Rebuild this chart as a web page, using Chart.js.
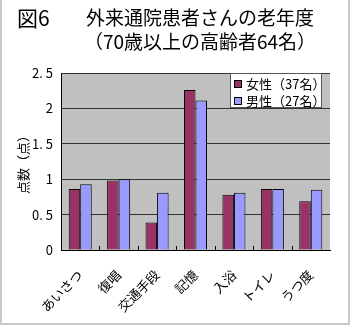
<!DOCTYPE html>
<html lang="ja">
<head>
<meta charset="utf-8">
<script src="https://cdn.jsdelivr.net/npm/chart.js@4/dist/chart.umd.min.js"></script>
<style>
  html, body { margin: 0; padding: 0; background: #fff; }
  #wrap { position: relative; width: 350px; height: 325px; overflow: hidden;
          font-family: "Noto Sans CJK JP", sans-serif; color: #000; }
  #frame { position: absolute; left: 0; top: 0; width: 350px; height: 325px; box-sizing: border-box;
           border: 2px solid #c8c8c8; border-top: none; pointer-events: none; }
  canvas { position: absolute; left: 0; top: 0; }
  #fig { position: absolute; left: 17px; top: 3px; font-size: 21px; line-height: 28px; }
  #title { position: absolute; left: 25px; top: 5px; width: 350px; text-align: center;
           font-size: 19px; line-height: 24px; }
  #legend { position: absolute; left: 230px; top: 73px; width: 92px; height: 35px; box-sizing: border-box;
            background: #fff; border: 1px solid #555; font-size: 13px; line-height: 17px; padding-top: 1px; }
  #legend div { white-space: nowrap; padding-left: 3px; }
  #legend span.sw { display: inline-block; width: 6px; height: 6px; border: 1px solid #000;
                    margin-right: 4px; vertical-align: 1px; }
</style>
</head>
<body>
<div id="wrap">
  <canvas id="c" width="350" height="325"></canvas>
  <div id="fig">図6</div>
  <div id="title">外来通院患者さんの老年度<br>（70歳以上の高齢者64名）</div>
  <div id="legend"></div>
  <div id="frame"></div>
</div>
<script>
// 項目
const categories = ['あいさつ', '復唱', '交通手段', '記憶', '入浴', 'トイレ', 'うつ度'];
// 女性（37名）の平均点
const femaleScores = [0.86, 0.98, 0.39, 2.26, 0.78, 0.86, 0.69];
// 男性（27名）の平均点
const maleScores = [0.93, 1.00, 0.81, 2.11, 0.81, 0.86, 0.85];
// 系列名
const seriesNames = ['女性（37名）', '男性（27名）'];
// 縦軸目盛の表示
const yTickLabels = { 0: '0', 0.5: '0. 5', 1: '1', 1.5: '1. 5', 2: '2', 2.5: '2. 5' };

const colors = ['#993366', '#9999ff'];
const FONT = '"Noto Sans CJK JP", sans-serif';

// 凡例
const legendEl = document.getElementById('legend');
seriesNames.forEach((name, i) => {
  const row = document.createElement('div');
  row.innerHTML = '<span class="sw" style="background:' + colors[i] + '"></span>' + name;
  legendEl.appendChild(row);
});

// プロット領域の背景と横軸の内向き目盛
const plotArea = {
  id: 'plotArea',
  beforeDraw(chart) {
    const a = chart.chartArea, ctx = chart.ctx;
    ctx.save();
    ctx.fillStyle = '#c0c0c0';
    ctx.fillRect(a.left, a.top, a.right - a.left, a.bottom - a.top);
    ctx.restore();
  },
  beforeDatasetsDraw(chart) {
    const x = chart.scales.x, a = chart.chartArea, ctx = chart.ctx;
    ctx.save();
    ctx.strokeStyle = '#000';
    ctx.lineWidth = 1;
    for (let i = 1; i < categories.length; i++) {
      const px = Math.round((x.getPixelForValue(i - 1) + x.getPixelForValue(i)) / 2) + 0.5;
      ctx.beginPath();
      ctx.moveTo(px, a.bottom);
      ctx.lineTo(px, a.bottom - 4);
      ctx.stroke();
    }
    ctx.restore();
  }
};

new Chart(document.getElementById('c'), {
  type: 'bar',
  data: {
    labels: categories,
    datasets: [
      { label: seriesNames[0], data: femaleScores, backgroundColor: colors[0],
        borderColor: '#000', borderWidth: 1 },
      { label: seriesNames[1], data: maleScores, backgroundColor: colors[1],
        borderColor: '#000', borderWidth: 1 }
    ]
  },
  options: {
    responsive: false,
    animation: false,
    devicePixelRatio: 1,
    layout: { padding: { top: 73, right: 20, left: 0, bottom: 0 } },
    datasets: { bar: { categoryPercentage: 0.6, barPercentage: 1.0 } },
    plugins: {
      legend: { display: false },
      tooltip: { enabled: false }
    },
    scales: {
      x: {
        grid: { display: false },
        border: { display: true, color: '#000', width: 1 },
        ticks: {
          color: '#000', font: { family: FONT, size: 13 },
          minRotation: 45, maxRotation: 45, padding: 9, autoSkip: false
        },
        afterFit(scale) { scale.height = 75; }
      },
      y: {
        min: 0, max: 2.5,
        grid: { color: '#333', lineWidth: 1, drawTicks: false },
        border: { display: true, color: '#000', width: 1 },
        ticks: {
          stepSize: 0.5, color: '#000', padding: 8,
          font: { family: FONT, size: 13 },
          callback: v => yTickLabels[v] ?? String(v)
        },
        title: {
          display: true, text: '点数（点）', color: '#000',
          font: { family: FONT, size: 13 }, padding: { top: 15, bottom: 0 }
        },
        afterFit(scale) { scale.width = 61; }
      }
    }
  },
  plugins: [plotArea]
});
</script>
</body>
</html>
